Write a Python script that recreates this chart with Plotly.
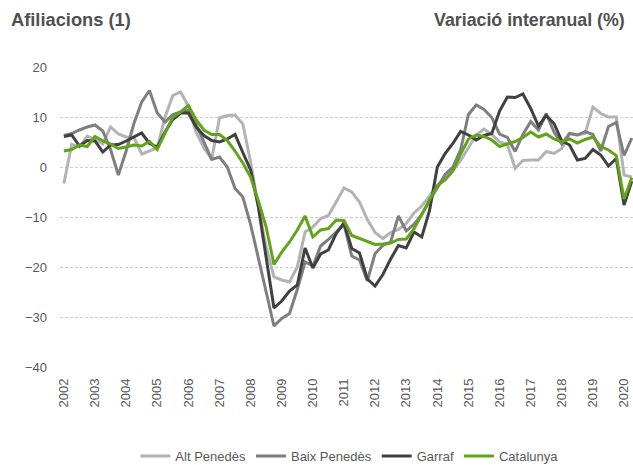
import plotly.graph_objects as go

# Quarterly data 2002Q1 .. 2020Q2 (74 quarters)
years = list(range(2002, 2021))
n_quarters = 74

alt_penedes = [
    -3.3, 4.5, 4.0, 6.2, 5.5, 4.6, 8.0, 6.6, 6.0, 5.9,
    2.6, 3.2, 3.8, 10.0, 14.3, 15.0, 12.2, 6.9, 3.8, 1.6,
    9.8, 10.3, 10.4, 8.6, 1.0, -8.0, -16.0, -22.0, -22.6, -23.0,
    -20.0, -13.0, -12.0, -10.3, -9.7, -7.0, -4.2, -5.0, -7.0, -10.5,
    -13.1, -14.3, -13.1, -12.5, -11.3, -9.2, -7.8, -5.8, -3.7, -2.0,
    -0.8, 1.3, 4.0, 6.4, 7.6, 6.5, 5.0, 4.5, -0.3, 1.3,
    1.4, 1.4, 3.1, 2.7, 3.7, 6.7, 6.4, 6.7, 12.0, 10.7,
    10.0, 10.0, -1.6, -2.0,
]

baix_penedes = [
    6.3, 6.7, 7.4, 8.0, 8.4, 7.2, 3.5, -1.6, 3.2, 8.7,
    13.0, 15.3, 10.8, 9.0, 10.5, 11.0, 11.3, 8.5, 5.0, 1.5,
    2.0, 0.0, -4.3, -6.0, -11.5, -18.5, -25.0, -31.8, -30.3, -29.3,
    -24.5, -19.0, -19.8, -15.8, -14.5, -13.0, -11.5, -17.8, -18.6, -22.8,
    -17.3, -15.7, -15.0, -9.8, -12.8, -11.5, -9.5, -6.8, -4.0, -1.5,
    0.0, 3.5, 10.5, 12.4, 11.5, 9.9, 6.6, 5.9, 3.1, 6.5,
    9.1, 7.4, 10.7, 7.0, 4.6, 6.7, 6.4, 7.1, 6.5, 3.2,
    8.1, 8.9, 2.3, 5.8,
]

garraf = [
    6.1, 6.4, 4.2, 5.3, 5.2, 3.0, 4.4, 4.5, 5.2, 6.0,
    6.8, 4.7, 4.0, 7.0, 9.5, 10.8, 10.8, 8.0, 6.3, 5.3,
    5.0, 5.6, 6.5, 2.9, -0.6, -8.0, -18.0, -28.2, -26.8, -24.8,
    -23.6, -16.2, -20.2, -17.4, -16.6, -13.3, -11.2, -16.3, -17.2, -22.4,
    -23.8, -21.5, -18.4, -15.7, -16.2, -13.0, -14.0, -8.7, 0.0, 2.7,
    4.7, 7.1, 6.4, 5.4, 6.3, 6.7, 11.2, 14.0, 13.9, 14.6,
    11.7, 8.2, 10.3, 8.7, 5.2, 4.4, 1.4, 1.7, 3.5, 2.4,
    0.2, 1.7, -7.6, -2.8,
]

catalunya = [
    3.2, 3.5, 4.4, 4.1, 6.1, 5.2, 4.6, 3.7, 4.0, 4.4,
    4.2, 5.1, 3.5, 6.8, 10.0, 11.0, 12.3, 9.4, 7.4, 6.5,
    6.5, 5.3, 3.2, 0.8, -2.0, -6.8, -12.0, -19.5, -17.0, -15.0,
    -12.6, -9.8, -14.0, -12.6, -12.3, -10.6, -10.7, -13.7, -14.3, -15.0,
    -15.5, -15.4, -15.2, -14.5, -14.4, -12.4, -9.6, -6.6, -3.7, -2.6,
    -0.8, 2.6, 5.6, 6.4, 6.1, 5.4, 4.1, 4.6, 5.1, 5.9,
    7.0, 6.0, 6.6, 5.6, 5.0, 5.6, 4.8, 5.5, 6.0, 4.1,
    3.4, 2.3, -6.4, -2.1,
]

series_names = ["Alt Penedès", "Baix Penedès", "Garraf", "Catalunya"]
series_values = [alt_penedes, baix_penedes, garraf, catalunya]
series_colors = ["#b3b3b5", "#7f7f7f", "#404040", "#62a31a"]

y_ticks = [20, 10, 0, -10, -20, -30, -40]

x_idx = list(range(n_quarters))
year_tickvals = [4 * (y - years[0]) for y in years]
year_ticktext = [str(y) for y in years]

FONT = "Liberation Sans, Arial, sans-serif"
TXT = "#595959"

fig = go.Figure()
for name, vals, col in zip(series_names, series_values, series_colors):
    fig.add_trace(go.Scatter(
        x=x_idx, y=vals, name=name, mode="lines",
        line=dict(color=col, width=3),
        hoverinfo="skip",
    ))

x_range = [-0.5, 73.15]

fig.update_layout(
    width=633, height=465,
    margin=dict(l=60, r=0, t=67, b=98, autoexpand=False),
    paper_bgcolor="white", plot_bgcolor="white",
    font=dict(family=FONT, size=13, color=TXT),
    showlegend=True,
    legend=dict(
        orientation="h", x=0.505, xanchor="center", y=-0.297, yanchor="middle",
        font=dict(family=FONT, size=13, color=TXT),
        itemwidth=30, tracegroupgap=0,
    ),
    xaxis=dict(
        range=x_range, tickmode="array", tickvals=year_tickvals,
        ticktext=year_ticktext, tickangle=-90, showgrid=False,
        showline=False, zeroline=False, ticks="",
        tickfont=dict(family=FONT, size=13, color=TXT),
        ticklabelstandoff=8,
    ),
    xaxis2=dict(
        overlaying="x", anchor="free", position=40 / 60, side="bottom",
        range=x_range, showline=True, linecolor="#bfbfbf", linewidth=1.5,
        ticks="outside", ticklen=4, tickwidth=1, tickcolor="#bfbfbf",
        tickmode="array", tickvals=[i - 0.5 for i in range(n_quarters + 1)],
        showticklabels=False, showgrid=False, zeroline=False,
    ),
    yaxis=dict(
        range=[-40, 20], tickmode="array", tickvals=y_ticks,
        showgrid=True, gridcolor="#cfcfcf", griddash="3px,2px", gridwidth=1,
        zeroline=False, showline=False, ticks="",
        tickfont=dict(family=FONT, size=13, color=TXT),
        ticklabelstandoff=12,
    ),
    annotations=[
        dict(text="<b>Afiliacions (1)</b>", xref="paper", yref="paper",
             x=-0.089, y=1.157, xanchor="left", yanchor="middle",
             showarrow=False, font=dict(family=FONT, size=18.3, color="#505050")),
        dict(text="<b>Variació interanual (%)</b>", xref="paper", yref="paper",
             x=0.99, y=1.157, xanchor="right", yanchor="middle",
             showarrow=False, font=dict(family=FONT, size=17.8, color="#505050")),
    ],
)

fig.write_html(
    "out.html",
    config={"displayModeBar": False},
    post_script="document.body.style.margin='0';document.body.style.overflow='hidden';",
)
